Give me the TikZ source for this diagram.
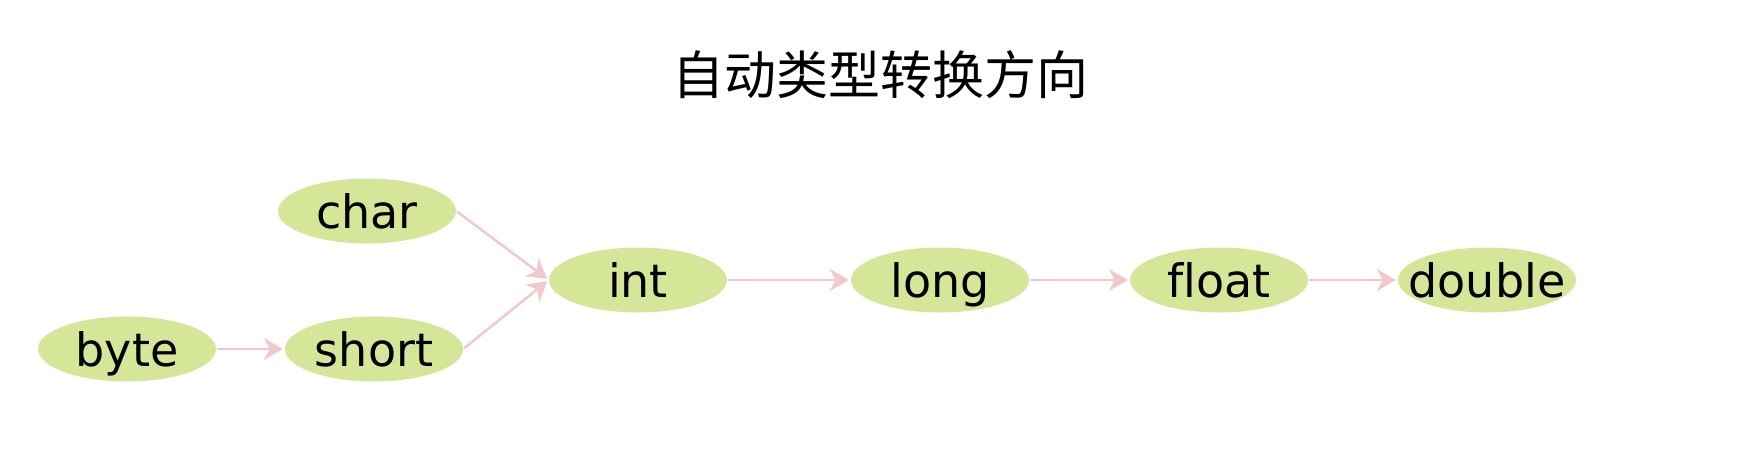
\documentclass[tikz,border=0pt]{standalone}
\usepackage{fontspec}
\setmainfont[Ligatures=NoCommon]{DejaVu Sans}
\newfontfamily\cjk{Noto Sans CJK SC}
\usetikzlibrary{shapes.geometric,arrows.meta}
\definecolor{ellfill}{RGB}{214,230,152}
\definecolor{arrcol}{RGB}{242,200,205}
\tikzset{
  typebox/.style={ellipse, fill=ellfill, draw=none, minimum width=178pt, minimum height=65pt, inner sep=0pt},
  typelbl/.style={text height=36pt, text depth=0pt, yshift=1pt, font=\fontsize{46}{46}\selectfont, inner sep=0pt},
  conv/.style={draw=arrcol, line width=2.5pt, -{Stealth[length=19pt,width=22pt,inset=6pt]}, shorten >=2pt, shorten <=1pt},
  titletext/.style={font=\cjk\fontsize{52}{52}\selectfont, inner sep=0pt}
}
\begin{document}
\begin{tikzpicture}[x=1pt,y=-1pt]
\useasboundingbox (0,0) rectangle (1762,453);
\fill[white] (0,0) rectangle (1762,453);
\node[titletext] (title) at (880,75) {自动类型转换方向};
\node[typebox, label={[typelbl]center:char}] (char) at (367,211) {};
\node[typebox, label={[typelbl]center:byte}] (byte) at (127,349) {};
\node[typebox, label={[typelbl]center:short}] (short) at (374,349) {};
\node[typebox, label={[typelbl]center:int}] (int) at (638,280) {};
\node[typebox, label={[typelbl]center:long}] (long) at (940,280) {};
\node[typebox, label={[typelbl]center:float}] (float) at (1219,280) {};
\node[typebox, label={[typelbl]center:double}] (double) at (1487,280) {};
\draw[conv] (char.east) -- (int.west);
\draw[conv] (short.east) -- (int.west);
\draw[conv] (byte) -- (short);
\draw[conv] (int) -- (long);
\draw[conv] (long) -- (float);
\draw[conv] (float) -- (double);
\end{tikzpicture}
\end{document}
